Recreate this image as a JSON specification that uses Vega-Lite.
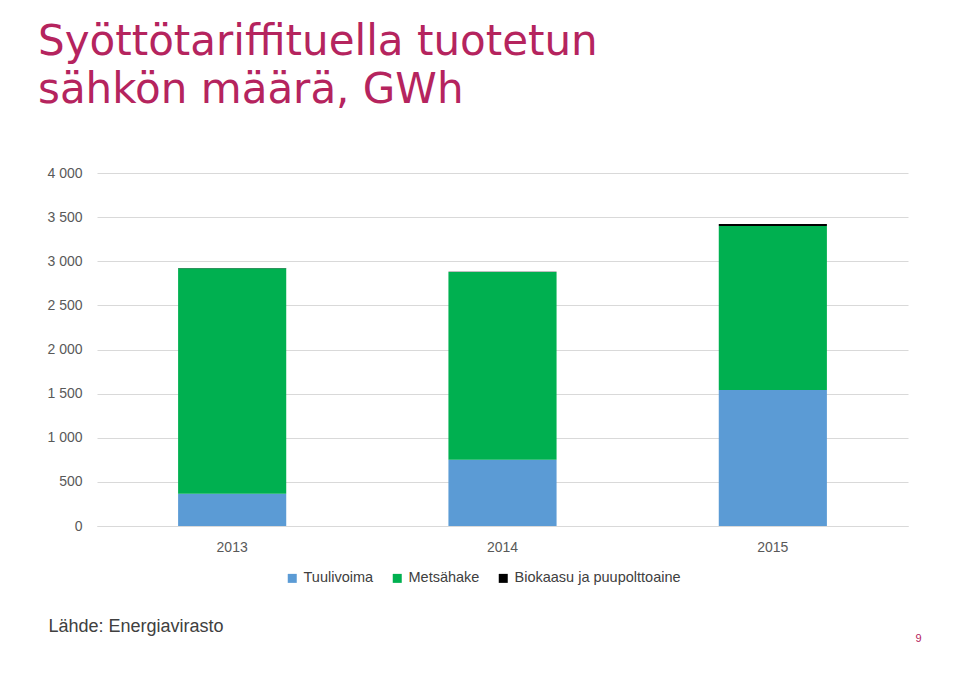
{
  "$schema": "https://vega.github.io/schema/vega-lite/v6.json",
  "autosize": {"type": "none"},
  "width": 811,
  "height": 353,
  "padding": {"left": 97, "top": 173, "right": 52, "bottom": 155},
  "background": "#ffffff",
  "title": {
    "text": ["Syöttötariffituella tuotetun", "sähkön määrä, GWh"],
    "anchor": "start",
    "frame": "group",
    "orient": "top",
    "dx": -59,
    "offset": 21,
    "baseline": "alphabetic",
    "font": "DejaVu Sans",
    "fontSize": 42,
    "fontWeight": "normal",
    "lineHeight": 48,
    "color": "#b5245e"
  },
  "data": {
    "values": [
      {"vuosi": "2013", "laji": "Tuulivoima", "ord": 1, "gwh": 365},
      {"vuosi": "2013", "laji": "Metsähake", "ord": 2, "gwh": 2555},
      {"vuosi": "2013", "laji": "Biokaasu ja puupolttoaine", "ord": 3, "gwh": 4},
      {"vuosi": "2014", "laji": "Tuulivoima", "ord": 1, "gwh": 750},
      {"vuosi": "2014", "laji": "Metsähake", "ord": 2, "gwh": 2128},
      {"vuosi": "2014", "laji": "Biokaasu ja puupolttoaine", "ord": 3, "gwh": 2},
      {"vuosi": "2015", "laji": "Tuulivoima", "ord": 1, "gwh": 1540},
      {"vuosi": "2015", "laji": "Metsähake", "ord": 2, "gwh": 1860},
      {"vuosi": "2015", "laji": "Biokaasu ja puupolttoaine", "ord": 3, "gwh": 22}
    ]
  },
  "mark": {"type": "bar"},
  "encoding": {
    "x": {
      "field": "vuosi",
      "type": "ordinal",
      "scale": {"paddingInner": 0.6, "paddingOuter": 0.3},
      "axis": {
        "title": "Lähde: Energiavirasto",
        "titleX": -49,
        "titleY": 105,
        "titleAnchor": "start",
        "titleAlign": "left",
        "titleBaseline": "alphabetic",
        "titleFont": "Liberation Sans",
        "titleFontSize": 18,
        "titleFontWeight": "normal",
        "titleColor": "#404040",
        "labelAngle": 0,
        "labelFont": "Liberation Sans",
        "labelFontSize": 14,
        "labelColor": "#595959",
        "labelPadding": 14,
        "ticks": false,
        "domainColor": "#d9d9d9"
      }
    },
    "y": {
      "field": "gwh",
      "type": "quantitative",
      "stack": "zero",
      "scale": {"domain": [0, 4000]},
      "axis": {
        "values": [0, 500, 1000, 1500, 2000, 2500, 3000, 3500, 4000],
        "labelExpr": "replace(format(datum.value, ','), ',', ' ')",
        "title": "9",
        "titleAngle": 0,
        "titleX": 821,
        "titleY": 468,
        "titleAlign": "center",
        "titleBaseline": "alphabetic",
        "titleFont": "Liberation Sans",
        "titleFontSize": 11,
        "titleFontWeight": "normal",
        "titleColor": "#b5245e",
        "labelFont": "Liberation Sans",
        "labelFontSize": 14,
        "labelColor": "#595959",
        "labelPadding": 15,
        "ticks": false,
        "domain": false,
        "gridColor": "#d9d9d9"
      }
    },
    "color": {
      "field": "laji",
      "type": "nominal",
      "scale": {
        "domain": ["Tuulivoima", "Metsähake", "Biokaasu ja puupolttoaine"],
        "range": ["#5b9bd5", "#00b050", "#000000"]
      },
      "legend": {
        "title": null,
        "orient": "none",
        "direction": "horizontal",
        "legendX": 188,
        "legendY": 398,
        "symbolType": "square",
        "symbolSize": 81,
        "symbolStrokeWidth": 0,
        "labelFont": "Liberation Sans",
        "labelFontSize": 14.5,
        "labelColor": "#404040",
        "labelOffset": 4,
        "labelLimit": 400,
        "columnPadding": 16
      }
    },
    "order": {"field": "ord", "type": "quantitative"}
  },
  "config": {"view": {"stroke": null}}
}
